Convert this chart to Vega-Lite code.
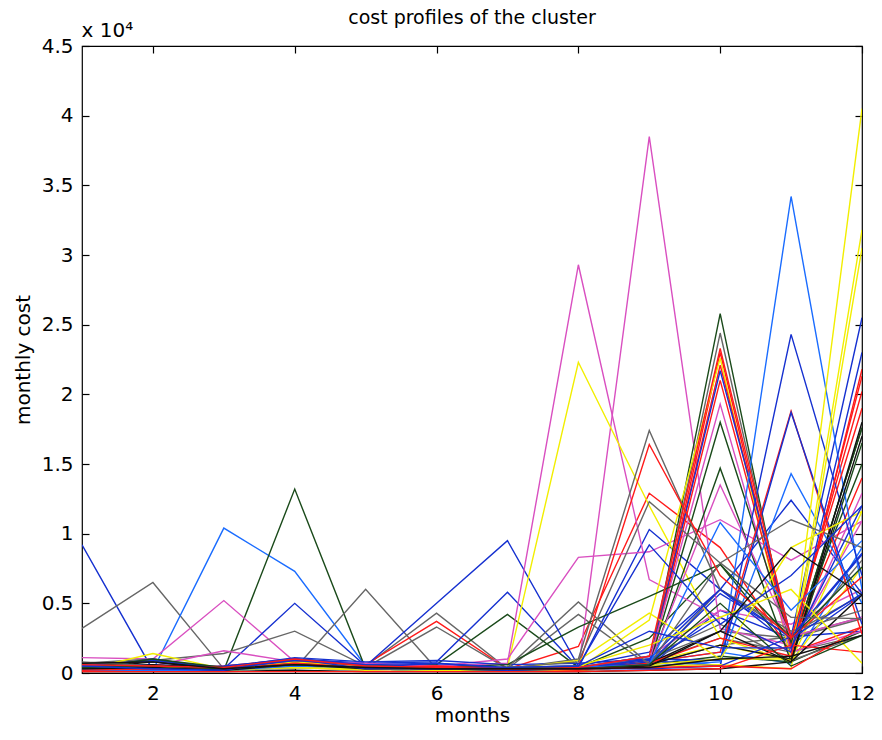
{
  "$schema": "https://vega.github.io/schema/vega-lite/v6.json",
  "width": 780,
  "height": 627,
  "autosize": {"type": "none"},
  "padding": {"left": 82, "top": 46, "right": 20, "bottom": 67},
  "background": "white",
  "config": {
    "font": "DejaVu Sans",
    "view": {"stroke": "black", "strokeWidth": 1.2},
    "axis": {"domain": false, "grid": false, "tickColor": "black", "labelColor": "black", "titleColor": "black", "labelFontSize": 20, "titleFontSize": 20, "titleFontWeight": "normal", "labelFont": "DejaVu Sans", "titleFont": "DejaVu Sans", "tickSize": -7, "tickWidth": 1.2, "labelFlush": false}
  },
  "title": {"text": "cost profiles of the cluster", "fontSize": 19, "fontWeight": "normal", "font": "DejaVu Sans", "color": "black", "offset": -8, "anchor": "middle"},
  "data": {"values": [
{"s":1,"c":"B","m":1,"v":9200},{"s":1,"c":"B","m":2,"v":200},{"s":1,"c":"B","m":3,"v":300},{"s":1,"c":"B","m":4,"v":900},{"s":1,"c":"B","m":5,"v":500},{"s":1,"c":"B","m":6,"v":300},{"s":1,"c":"B","m":7,"v":200},{"s":1,"c":"B","m":8,"v":200},{"s":1,"c":"B","m":9,"v":500},{"s":1,"c":"B","m":10,"v":4500},{"s":1,"c":"B","m":11,"v":2500},{"s":1,"c":"B","m":12,"v":8500},
{"s":2,"c":"A","m":1,"v":3200},{"s":2,"c":"A","m":2,"v":6500},{"s":2,"c":"A","m":3,"v":300},{"s":2,"c":"A","m":4,"v":800},{"s":2,"c":"A","m":5,"v":500},{"s":2,"c":"A","m":6,"v":300},{"s":2,"c":"A","m":7,"v":300},{"s":2,"c":"A","m":8,"v":200},{"s":2,"c":"A","m":9,"v":600},{"s":2,"c":"A","m":10,"v":2000},{"s":2,"c":"A","m":11,"v":2600},{"s":2,"c":"A","m":12,"v":4000},
{"s":3,"c":"L","m":1,"v":500},{"s":3,"c":"L","m":2,"v":200},{"s":3,"c":"L","m":3,"v":10400},{"s":3,"c":"L","m":4,"v":7300},{"s":3,"c":"L","m":5,"v":500},{"s":3,"c":"L","m":6,"v":600},{"s":3,"c":"L","m":7,"v":300},{"s":3,"c":"L","m":8,"v":200},{"s":3,"c":"L","m":9,"v":800},{"s":3,"c":"L","m":10,"v":1500},{"s":3,"c":"L","m":11,"v":700},{"s":3,"c":"L","m":12,"v":9000},
{"s":4,"c":"G","m":1,"v":300},{"s":4,"c":"G","m":2,"v":900},{"s":4,"c":"G","m":3,"v":200},{"s":4,"c":"G","m":4,"v":13200},{"s":4,"c":"G","m":5,"v":300},{"s":4,"c":"G","m":6,"v":200},{"s":4,"c":"G","m":7,"v":300},{"s":4,"c":"G","m":8,"v":400},{"s":4,"c":"G","m":9,"v":600},{"s":4,"c":"G","m":10,"v":1200},{"s":4,"c":"G","m":11,"v":800},{"s":4,"c":"G","m":12,"v":3000},
{"s":5,"c":"M","m":1,"v":1100},{"s":5,"c":"M","m":2,"v":1000},{"s":5,"c":"M","m":3,"v":5200},{"s":5,"c":"M","m":4,"v":800},{"s":5,"c":"M","m":5,"v":400},{"s":5,"c":"M","m":6,"v":300},{"s":5,"c":"M","m":7,"v":200},{"s":5,"c":"M","m":8,"v":300},{"s":5,"c":"M","m":9,"v":1200},{"s":5,"c":"M","m":10,"v":4500},{"s":5,"c":"M","m":11,"v":3500},{"s":5,"c":"M","m":12,"v":6000},
{"s":6,"c":"B","m":1,"v":400},{"s":6,"c":"B","m":2,"v":300},{"s":6,"c":"B","m":3,"v":300},{"s":6,"c":"B","m":4,"v":5000},{"s":6,"c":"B","m":5,"v":500},{"s":6,"c":"B","m":6,"v":300},{"s":6,"c":"B","m":7,"v":400},{"s":6,"c":"B","m":8,"v":500},{"s":6,"c":"B","m":9,"v":1500},{"s":6,"c":"B","m":10,"v":6000},{"s":6,"c":"B","m":11,"v":2000},{"s":6,"c":"B","m":12,"v":5600},
{"s":7,"c":"A","m":1,"v":600},{"s":7,"c":"A","m":2,"v":900},{"s":7,"c":"A","m":3,"v":1400},{"s":7,"c":"A","m":4,"v":3000},{"s":7,"c":"A","m":5,"v":500},{"s":7,"c":"A","m":6,"v":300},{"s":7,"c":"A","m":7,"v":300},{"s":7,"c":"A","m":8,"v":400},{"s":7,"c":"A","m":9,"v":1000},{"s":7,"c":"A","m":10,"v":3000},{"s":7,"c":"A","m":11,"v":2500},{"s":7,"c":"A","m":12,"v":3900},
{"s":8,"c":"A","m":1,"v":700},{"s":8,"c":"A","m":2,"v":1000},{"s":8,"c":"A","m":3,"v":300},{"s":8,"c":"A","m":4,"v":300},{"s":8,"c":"A","m":5,"v":6000},{"s":8,"c":"A","m":6,"v":300},{"s":8,"c":"A","m":7,"v":200},{"s":8,"c":"A","m":8,"v":300},{"s":8,"c":"A","m":9,"v":800},{"s":8,"c":"A","m":10,"v":2500},{"s":8,"c":"A","m":11,"v":1500},{"s":8,"c":"A","m":12,"v":2700},
{"s":9,"c":"A","m":1,"v":400},{"s":9,"c":"A","m":2,"v":300},{"s":9,"c":"A","m":3,"v":400},{"s":9,"c":"A","m":4,"v":900},{"s":9,"c":"A","m":5,"v":500},{"s":9,"c":"A","m":6,"v":4300},{"s":9,"c":"A","m":7,"v":300},{"s":9,"c":"A","m":8,"v":400},{"s":9,"c":"A","m":9,"v":1200},{"s":9,"c":"A","m":10,"v":3500},{"s":9,"c":"A","m":11,"v":900},{"s":9,"c":"A","m":12,"v":2700},
{"s":10,"c":"R","m":1,"v":300},{"s":10,"c":"R","m":2,"v":400},{"s":10,"c":"R","m":3,"v":500},{"s":10,"c":"R","m":4,"v":1000},{"s":10,"c":"R","m":5,"v":600},{"s":10,"c":"R","m":6,"v":3700},{"s":10,"c":"R","m":7,"v":300},{"s":10,"c":"R","m":8,"v":1900},{"s":10,"c":"R","m":9,"v":12900},{"s":10,"c":"R","m":10,"v":9000},{"s":10,"c":"R","m":11,"v":1500},{"s":10,"c":"R","m":12,"v":3300},
{"s":11,"c":"A","m":1,"v":300},{"s":11,"c":"A","m":2,"v":500},{"s":11,"c":"A","m":3,"v":300},{"s":11,"c":"A","m":4,"v":600},{"s":11,"c":"A","m":5,"v":400},{"s":11,"c":"A","m":6,"v":3300},{"s":11,"c":"A","m":7,"v":300},{"s":11,"c":"A","m":8,"v":4200},{"s":11,"c":"A","m":9,"v":500},{"s":11,"c":"A","m":10,"v":6000},{"s":11,"c":"A","m":11,"v":2800},{"s":11,"c":"A","m":12,"v":5600},
{"s":12,"c":"B","m":1,"v":500},{"s":12,"c":"B","m":2,"v":600},{"s":12,"c":"B","m":3,"v":400},{"s":12,"c":"B","m":4,"v":800},{"s":12,"c":"B","m":5,"v":500},{"s":12,"c":"B","m":6,"v":5000},{"s":12,"c":"B","m":7,"v":9500},{"s":12,"c":"B","m":8,"v":500},{"s":12,"c":"B","m":9,"v":700},{"s":12,"c":"B","m":10,"v":5700},{"s":12,"c":"B","m":11,"v":2600},{"s":12,"c":"B","m":12,"v":3000},
{"s":13,"c":"B","m":1,"v":300},{"s":13,"c":"B","m":2,"v":400},{"s":13,"c":"B","m":3,"v":300},{"s":13,"c":"B","m":4,"v":1000},{"s":13,"c":"B","m":5,"v":700},{"s":13,"c":"B","m":6,"v":800},{"s":13,"c":"B","m":7,"v":5800},{"s":13,"c":"B","m":8,"v":400},{"s":13,"c":"B","m":9,"v":10300},{"s":13,"c":"B","m":10,"v":6000},{"s":13,"c":"B","m":11,"v":12400},{"s":13,"c":"B","m":12,"v":5700},
{"s":14,"c":"G","m":1,"v":200},{"s":14,"c":"G","m":2,"v":300},{"s":14,"c":"G","m":3,"v":300},{"s":14,"c":"G","m":4,"v":900},{"s":14,"c":"G","m":5,"v":500},{"s":14,"c":"G","m":6,"v":600},{"s":14,"c":"G","m":7,"v":4200},{"s":14,"c":"G","m":8,"v":400},{"s":14,"c":"G","m":9,"v":2500},{"s":14,"c":"G","m":10,"v":7800},{"s":14,"c":"G","m":11,"v":1500},{"s":14,"c":"G","m":12,"v":17600},
{"s":15,"c":"M","m":1,"v":300},{"s":15,"c":"M","m":2,"v":200},{"s":15,"c":"M","m":3,"v":400},{"s":15,"c":"M","m":4,"v":700},{"s":15,"c":"M","m":5,"v":600},{"s":15,"c":"M","m":6,"v":500},{"s":15,"c":"M","m":7,"v":700},{"s":15,"c":"M","m":8,"v":29300},{"s":15,"c":"M","m":9,"v":6700},{"s":15,"c":"M","m":10,"v":4000},{"s":15,"c":"M","m":11,"v":1500},{"s":15,"c":"M","m":12,"v":12900},
{"s":16,"c":"M","m":1,"v":400},{"s":16,"c":"M","m":2,"v":300},{"s":16,"c":"M","m":3,"v":300},{"s":16,"c":"M","m":4,"v":500},{"s":16,"c":"M","m":5,"v":500},{"s":16,"c":"M","m":6,"v":400},{"s":16,"c":"M","m":7,"v":300},{"s":16,"c":"M","m":8,"v":200},{"s":16,"c":"M","m":9,"v":38500},{"s":16,"c":"M","m":10,"v":3200},{"s":16,"c":"M","m":11,"v":2000},{"s":16,"c":"M","m":12,"v":10900},
{"s":17,"c":"Y","m":1,"v":200},{"s":17,"c":"Y","m":2,"v":1400},{"s":17,"c":"Y","m":3,"v":300},{"s":17,"c":"Y","m":4,"v":700},{"s":17,"c":"Y","m":5,"v":400},{"s":17,"c":"Y","m":6,"v":300},{"s":17,"c":"Y","m":7,"v":400},{"s":17,"c":"Y","m":8,"v":22300},{"s":17,"c":"Y","m":9,"v":12000},{"s":17,"c":"Y","m":10,"v":2500},{"s":17,"c":"Y","m":11,"v":800},{"s":17,"c":"Y","m":12,"v":7600},
{"s":18,"c":"M","m":1,"v":600},{"s":18,"c":"M","m":2,"v":500},{"s":18,"c":"M","m":3,"v":1600},{"s":18,"c":"M","m":4,"v":800},{"s":18,"c":"M","m":5,"v":700},{"s":18,"c":"M","m":6,"v":500},{"s":18,"c":"M","m":7,"v":1000},{"s":18,"c":"M","m":8,"v":8300},{"s":18,"c":"M","m":9,"v":8700},{"s":18,"c":"M","m":10,"v":11000},{"s":18,"c":"M","m":11,"v":8100},{"s":18,"c":"M","m":12,"v":10900},
{"s":19,"c":"G","m":1,"v":300},{"s":19,"c":"G","m":2,"v":200},{"s":19,"c":"G","m":3,"v":300},{"s":19,"c":"G","m":4,"v":800},{"s":19,"c":"G","m":5,"v":400},{"s":19,"c":"G","m":6,"v":300},{"s":19,"c":"G","m":7,"v":300},{"s":19,"c":"G","m":8,"v":300},{"s":19,"c":"G","m":9,"v":500},{"s":19,"c":"G","m":10,"v":25800},{"s":19,"c":"G","m":11,"v":1500},{"s":19,"c":"G","m":12,"v":17600},
{"s":20,"c":"A","m":1,"v":500},{"s":20,"c":"A","m":2,"v":300},{"s":20,"c":"A","m":3,"v":200},{"s":20,"c":"A","m":4,"v":700},{"s":20,"c":"A","m":5,"v":400},{"s":20,"c":"A","m":6,"v":300},{"s":20,"c":"A","m":7,"v":300},{"s":20,"c":"A","m":8,"v":300},{"s":20,"c":"A","m":9,"v":600},{"s":20,"c":"A","m":10,"v":24400},{"s":20,"c":"A","m":11,"v":2000},{"s":20,"c":"A","m":12,"v":8100},
{"s":21,"c":"R","m":1,"v":200},{"s":21,"c":"R","m":2,"v":300},{"s":21,"c":"R","m":3,"v":200},{"s":21,"c":"R","m":4,"v":600},{"s":21,"c":"R","m":5,"v":500},{"s":21,"c":"R","m":6,"v":400},{"s":21,"c":"R","m":7,"v":300},{"s":21,"c":"R","m":8,"v":300},{"s":21,"c":"R","m":9,"v":500},{"s":21,"c":"R","m":10,"v":23000},{"s":21,"c":"R","m":11,"v":1800},{"s":21,"c":"R","m":12,"v":21300},
{"s":22,"c":"Y","m":1,"v":200},{"s":22,"c":"Y","m":2,"v":300},{"s":22,"c":"Y","m":3,"v":300},{"s":22,"c":"Y","m":4,"v":500},{"s":22,"c":"Y","m":5,"v":300},{"s":22,"c":"Y","m":6,"v":300},{"s":22,"c":"Y","m":7,"v":200},{"s":22,"c":"Y","m":8,"v":300},{"s":22,"c":"Y","m":9,"v":3800},{"s":22,"c":"Y","m":10,"v":22600},{"s":22,"c":"Y","m":11,"v":900},{"s":22,"c":"Y","m":12,"v":11600},
{"s":23,"c":"R","m":1,"v":300},{"s":23,"c":"R","m":2,"v":200},{"s":23,"c":"R","m":3,"v":300},{"s":23,"c":"R","m":4,"v":600},{"s":23,"c":"R","m":5,"v":400},{"s":23,"c":"R","m":6,"v":300},{"s":23,"c":"R","m":7,"v":200},{"s":23,"c":"R","m":8,"v":400},{"s":23,"c":"R","m":9,"v":600},{"s":23,"c":"R","m":10,"v":22100},{"s":23,"c":"R","m":11,"v":2200},{"s":23,"c":"R","m":12,"v":20200},
{"s":24,"c":"B","m":1,"v":200},{"s":24,"c":"B","m":2,"v":300},{"s":24,"c":"B","m":3,"v":200},{"s":24,"c":"B","m":4,"v":700},{"s":24,"c":"B","m":5,"v":300},{"s":24,"c":"B","m":6,"v":200},{"s":24,"c":"B","m":7,"v":300},{"s":24,"c":"B","m":8,"v":300},{"s":24,"c":"B","m":9,"v":700},{"s":24,"c":"B","m":10,"v":21700},{"s":24,"c":"B","m":11,"v":2600},{"s":24,"c":"B","m":12,"v":25500},
{"s":25,"c":"R","m":1,"v":200},{"s":25,"c":"R","m":2,"v":200},{"s":25,"c":"R","m":3,"v":200},{"s":25,"c":"R","m":4,"v":500},{"s":25,"c":"R","m":5,"v":300},{"s":25,"c":"R","m":6,"v":300},{"s":25,"c":"R","m":7,"v":200},{"s":25,"c":"R","m":8,"v":200},{"s":25,"c":"R","m":9,"v":500},{"s":25,"c":"R","m":10,"v":21000},{"s":25,"c":"R","m":11,"v":2000},{"s":25,"c":"R","m":12,"v":14000},
{"s":26,"c":"M","m":1,"v":300},{"s":26,"c":"M","m":2,"v":200},{"s":26,"c":"M","m":3,"v":300},{"s":26,"c":"M","m":4,"v":500},{"s":26,"c":"M","m":5,"v":300},{"s":26,"c":"M","m":6,"v":300},{"s":26,"c":"M","m":7,"v":200},{"s":26,"c":"M","m":8,"v":400},{"s":26,"c":"M","m":9,"v":800},{"s":26,"c":"M","m":10,"v":19300},{"s":26,"c":"M","m":11,"v":1500},{"s":26,"c":"M","m":12,"v":3000},
{"s":27,"c":"G","m":1,"v":200},{"s":27,"c":"G","m":2,"v":200},{"s":27,"c":"G","m":3,"v":200},{"s":27,"c":"G","m":4,"v":600},{"s":27,"c":"G","m":5,"v":300},{"s":27,"c":"G","m":6,"v":200},{"s":27,"c":"G","m":7,"v":300},{"s":27,"c":"G","m":8,"v":300},{"s":27,"c":"G","m":9,"v":500},{"s":27,"c":"G","m":10,"v":18000},{"s":27,"c":"G","m":11,"v":2200},{"s":27,"c":"G","m":12,"v":15000},
{"s":28,"c":"G","m":1,"v":200},{"s":28,"c":"G","m":2,"v":200},{"s":28,"c":"G","m":3,"v":200},{"s":28,"c":"G","m":4,"v":500},{"s":28,"c":"G","m":5,"v":300},{"s":28,"c":"G","m":6,"v":200},{"s":28,"c":"G","m":7,"v":200},{"s":28,"c":"G","m":8,"v":300},{"s":28,"c":"G","m":9,"v":400},{"s":28,"c":"G","m":10,"v":14700},{"s":28,"c":"G","m":11,"v":800},{"s":28,"c":"G","m":12,"v":16500},
{"s":29,"c":"M","m":1,"v":300},{"s":29,"c":"M","m":2,"v":200},{"s":29,"c":"M","m":3,"v":300},{"s":29,"c":"M","m":4,"v":400},{"s":29,"c":"M","m":5,"v":200},{"s":29,"c":"M","m":6,"v":300},{"s":29,"c":"M","m":7,"v":200},{"s":29,"c":"M","m":8,"v":300},{"s":29,"c":"M","m":9,"v":600},{"s":29,"c":"M","m":10,"v":13500},{"s":29,"c":"M","m":11,"v":2600},{"s":29,"c":"M","m":12,"v":4000},
{"s":30,"c":"L","m":1,"v":200},{"s":30,"c":"L","m":2,"v":200},{"s":30,"c":"L","m":3,"v":200},{"s":30,"c":"L","m":4,"v":400},{"s":30,"c":"L","m":5,"v":300},{"s":30,"c":"L","m":6,"v":200},{"s":30,"c":"L","m":7,"v":300},{"s":30,"c":"L","m":8,"v":400},{"s":30,"c":"L","m":9,"v":1200},{"s":30,"c":"L","m":10,"v":500},{"s":30,"c":"L","m":11,"v":34200},{"s":30,"c":"L","m":12,"v":6000},
{"s":31,"c":"B","m":1,"v":200},{"s":31,"c":"B","m":2,"v":300},{"s":31,"c":"B","m":3,"v":200},{"s":31,"c":"B","m":4,"v":600},{"s":31,"c":"B","m":5,"v":300},{"s":31,"c":"B","m":6,"v":200},{"s":31,"c":"B","m":7,"v":200},{"s":31,"c":"B","m":8,"v":300},{"s":31,"c":"B","m":9,"v":900},{"s":31,"c":"B","m":10,"v":500},{"s":31,"c":"B","m":11,"v":24300},{"s":31,"c":"B","m":12,"v":7000},
{"s":32,"c":"R","m":1,"v":200},{"s":32,"c":"R","m":2,"v":200},{"s":32,"c":"R","m":3,"v":200},{"s":32,"c":"R","m":4,"v":500},{"s":32,"c":"R","m":5,"v":300},{"s":32,"c":"R","m":6,"v":300},{"s":32,"c":"R","m":7,"v":200},{"s":32,"c":"R","m":8,"v":300},{"s":32,"c":"R","m":9,"v":800},{"s":32,"c":"R","m":10,"v":1500},{"s":32,"c":"R","m":11,"v":18800},{"s":32,"c":"R","m":12,"v":2800},
{"s":33,"c":"B","m":1,"v":300},{"s":33,"c":"B","m":2,"v":200},{"s":33,"c":"B","m":3,"v":300},{"s":33,"c":"B","m":4,"v":600},{"s":33,"c":"B","m":5,"v":300},{"s":33,"c":"B","m":6,"v":200},{"s":33,"c":"B","m":7,"v":300},{"s":33,"c":"B","m":8,"v":300},{"s":33,"c":"B","m":9,"v":1000},{"s":33,"c":"B","m":10,"v":900},{"s":33,"c":"B","m":11,"v":18700},{"s":33,"c":"B","m":12,"v":3500},
{"s":34,"c":"L","m":1,"v":200},{"s":34,"c":"L","m":2,"v":300},{"s":34,"c":"L","m":3,"v":200},{"s":34,"c":"L","m":4,"v":500},{"s":34,"c":"L","m":5,"v":300},{"s":34,"c":"L","m":6,"v":200},{"s":34,"c":"L","m":7,"v":200},{"s":34,"c":"L","m":8,"v":300},{"s":34,"c":"L","m":9,"v":500},{"s":34,"c":"L","m":10,"v":800},{"s":34,"c":"L","m":11,"v":14300},{"s":34,"c":"L","m":12,"v":5000},
{"s":35,"c":"Y","m":1,"v":200},{"s":35,"c":"Y","m":2,"v":300},{"s":35,"c":"Y","m":3,"v":200},{"s":35,"c":"Y","m":4,"v":400},{"s":35,"c":"Y","m":5,"v":200},{"s":35,"c":"Y","m":6,"v":300},{"s":35,"c":"Y","m":7,"v":200},{"s":35,"c":"Y","m":8,"v":300},{"s":35,"c":"Y","m":9,"v":600},{"s":35,"c":"Y","m":10,"v":1000},{"s":35,"c":"Y","m":11,"v":1000},{"s":35,"c":"Y","m":12,"v":40500},
{"s":36,"c":"Y","m":1,"v":300},{"s":36,"c":"Y","m":2,"v":200},{"s":36,"c":"Y","m":3,"v":200},{"s":36,"c":"Y","m":4,"v":500},{"s":36,"c":"Y","m":5,"v":300},{"s":36,"c":"Y","m":6,"v":200},{"s":36,"c":"Y","m":7,"v":200},{"s":36,"c":"Y","m":8,"v":200},{"s":36,"c":"Y","m":9,"v":800},{"s":36,"c":"Y","m":10,"v":2000},{"s":36,"c":"Y","m":11,"v":900},{"s":36,"c":"Y","m":12,"v":31800},
{"s":37,"c":"Y","m":1,"v":200},{"s":37,"c":"Y","m":2,"v":200},{"s":37,"c":"Y","m":3,"v":300},{"s":37,"c":"Y","m":4,"v":400},{"s":37,"c":"Y","m":5,"v":300},{"s":37,"c":"Y","m":6,"v":200},{"s":37,"c":"Y","m":7,"v":300},{"s":37,"c":"Y","m":8,"v":200},{"s":37,"c":"Y","m":9,"v":500},{"s":37,"c":"Y","m":10,"v":600},{"s":37,"c":"Y","m":11,"v":300},{"s":37,"c":"Y","m":12,"v":30500},
{"s":38,"c":"K","m":1,"v":300},{"s":38,"c":"K","m":2,"v":800},{"s":38,"c":"K","m":3,"v":200},{"s":38,"c":"K","m":4,"v":800},{"s":38,"c":"K","m":5,"v":300},{"s":38,"c":"K","m":6,"v":400},{"s":38,"c":"K","m":7,"v":300},{"s":38,"c":"K","m":8,"v":300},{"s":38,"c":"K","m":9,"v":600},{"s":38,"c":"K","m":10,"v":2000},{"s":38,"c":"K","m":11,"v":1000},{"s":38,"c":"K","m":12,"v":17000},
{"s":39,"c":"K","m":1,"v":400},{"s":39,"c":"K","m":2,"v":600},{"s":39,"c":"K","m":3,"v":300},{"s":39,"c":"K","m":4,"v":900},{"s":39,"c":"K","m":5,"v":400},{"s":39,"c":"K","m":6,"v":300},{"s":39,"c":"K","m":7,"v":200},{"s":39,"c":"K","m":8,"v":300},{"s":39,"c":"K","m":9,"v":700},{"s":39,"c":"K","m":10,"v":3000},{"s":39,"c":"K","m":11,"v":800},{"s":39,"c":"K","m":12,"v":18000},
{"s":40,"c":"B","m":1,"v":300},{"s":40,"c":"B","m":2,"v":1000},{"s":40,"c":"B","m":3,"v":200},{"s":40,"c":"B","m":4,"v":1000},{"s":40,"c":"B","m":5,"v":400},{"s":40,"c":"B","m":6,"v":700},{"s":40,"c":"B","m":7,"v":300},{"s":40,"c":"B","m":8,"v":300},{"s":40,"c":"B","m":9,"v":800},{"s":40,"c":"B","m":10,"v":4000},{"s":40,"c":"B","m":11,"v":1500},{"s":40,"c":"B","m":12,"v":23000},
{"s":41,"c":"R","m":1,"v":300},{"s":41,"c":"R","m":2,"v":400},{"s":41,"c":"R","m":3,"v":300},{"s":41,"c":"R","m":4,"v":700},{"s":41,"c":"R","m":5,"v":400},{"s":41,"c":"R","m":6,"v":300},{"s":41,"c":"R","m":7,"v":300},{"s":41,"c":"R","m":8,"v":200},{"s":41,"c":"R","m":9,"v":700},{"s":41,"c":"R","m":10,"v":2500},{"s":41,"c":"R","m":11,"v":1200},{"s":41,"c":"R","m":12,"v":21800},
{"s":42,"c":"A","m":1,"v":300},{"s":42,"c":"A","m":2,"v":500},{"s":42,"c":"A","m":3,"v":300},{"s":42,"c":"A","m":4,"v":600},{"s":42,"c":"A","m":5,"v":400},{"s":42,"c":"A","m":6,"v":300},{"s":42,"c":"A","m":7,"v":300},{"s":42,"c":"A","m":8,"v":1000},{"s":42,"c":"A","m":9,"v":17400},{"s":42,"c":"A","m":10,"v":6000},{"s":42,"c":"A","m":11,"v":3000},{"s":42,"c":"A","m":12,"v":4500},
{"s":43,"c":"K","m":1,"v":100},{"s":43,"c":"K","m":2,"v":100},{"s":43,"c":"K","m":3,"v":100},{"s":43,"c":"K","m":4,"v":200},{"s":43,"c":"K","m":5,"v":100},{"s":43,"c":"K","m":6,"v":100},{"s":43,"c":"K","m":7,"v":100},{"s":43,"c":"K","m":8,"v":100},{"s":43,"c":"K","m":9,"v":200},{"s":43,"c":"K","m":10,"v":300},{"s":43,"c":"K","m":11,"v":800},{"s":43,"c":"K","m":12,"v":5600},
{"s":44,"c":"R","m":1,"v":100},{"s":44,"c":"R","m":2,"v":100},{"s":44,"c":"R","m":3,"v":100},{"s":44,"c":"R","m":4,"v":100},{"s":44,"c":"R","m":5,"v":100},{"s":44,"c":"R","m":6,"v":100},{"s":44,"c":"R","m":7,"v":100},{"s":44,"c":"R","m":8,"v":100},{"s":44,"c":"R","m":9,"v":200},{"s":44,"c":"R","m":10,"v":300},{"s":44,"c":"R","m":11,"v":2000},{"s":44,"c":"R","m":12,"v":1500},
{"s":45,"c":"B","m":1,"v":600},{"s":45,"c":"B","m":2,"v":200},{"s":45,"c":"B","m":3,"v":500},{"s":45,"c":"B","m":4,"v":1000},{"s":45,"c":"B","m":5,"v":600},{"s":45,"c":"B","m":6,"v":300},{"s":45,"c":"B","m":7,"v":200},{"s":45,"c":"B","m":8,"v":300},{"s":45,"c":"B","m":9,"v":300},{"s":45,"c":"B","m":10,"v":500},{"s":45,"c":"B","m":11,"v":2600},{"s":45,"c":"B","m":12,"v":8600},
{"s":46,"c":"B","m":1,"v":500},{"s":46,"c":"B","m":2,"v":900},{"s":46,"c":"B","m":3,"v":400},{"s":46,"c":"B","m":4,"v":1100},{"s":46,"c":"B","m":5,"v":800},{"s":46,"c":"B","m":6,"v":900},{"s":46,"c":"B","m":7,"v":600},{"s":46,"c":"B","m":8,"v":700},{"s":46,"c":"B","m":9,"v":1000},{"s":46,"c":"B","m":10,"v":6000},{"s":46,"c":"B","m":11,"v":2500},{"s":46,"c":"B","m":12,"v":5700},
{"s":47,"c":"G","m":1,"v":300},{"s":47,"c":"G","m":2,"v":1000},{"s":47,"c":"G","m":3,"v":400},{"s":47,"c":"G","m":4,"v":800},{"s":47,"c":"G","m":5,"v":500},{"s":47,"c":"G","m":6,"v":400},{"s":47,"c":"G","m":7,"v":600},{"s":47,"c":"G","m":8,"v":3300},{"s":47,"c":"G","m":9,"v":5500},{"s":47,"c":"G","m":10,"v":7800},{"s":47,"c":"G","m":11,"v":2500},{"s":47,"c":"G","m":12,"v":7600},
{"s":48,"c":"A","m":1,"v":800},{"s":48,"c":"A","m":2,"v":500},{"s":48,"c":"A","m":3,"v":300},{"s":48,"c":"A","m":4,"v":600},{"s":48,"c":"A","m":5,"v":400},{"s":48,"c":"A","m":6,"v":300},{"s":48,"c":"A","m":7,"v":400},{"s":48,"c":"A","m":8,"v":5100},{"s":48,"c":"A","m":9,"v":600},{"s":48,"c":"A","m":10,"v":7900},{"s":48,"c":"A","m":11,"v":11000},{"s":48,"c":"A","m":12,"v":9000},
{"s":49,"c":"R","m":1,"v":400},{"s":49,"c":"R","m":2,"v":300},{"s":49,"c":"R","m":3,"v":200},{"s":49,"c":"R","m":4,"v":900},{"s":49,"c":"R","m":5,"v":400},{"s":49,"c":"R","m":6,"v":300},{"s":49,"c":"R","m":7,"v":300},{"s":49,"c":"R","m":8,"v":400},{"s":49,"c":"R","m":9,"v":16400},{"s":49,"c":"R","m":10,"v":7000},{"s":49,"c":"R","m":11,"v":2500},{"s":49,"c":"R","m":12,"v":6900},
{"s":50,"c":"Y","m":1,"v":300},{"s":50,"c":"Y","m":2,"v":500},{"s":50,"c":"Y","m":3,"v":200},{"s":50,"c":"Y","m":4,"v":600},{"s":50,"c":"Y","m":5,"v":300},{"s":50,"c":"Y","m":6,"v":400},{"s":50,"c":"Y","m":7,"v":300},{"s":50,"c":"Y","m":8,"v":900},{"s":50,"c":"Y","m":9,"v":4300},{"s":50,"c":"Y","m":10,"v":1000},{"s":50,"c":"Y","m":11,"v":9000},{"s":50,"c":"Y","m":12,"v":11600},
{"s":51,"c":"A","m":1,"v":500},{"s":51,"c":"A","m":2,"v":400},{"s":51,"c":"A","m":3,"v":300},{"s":51,"c":"A","m":4,"v":700},{"s":51,"c":"A","m":5,"v":500},{"s":51,"c":"A","m":6,"v":300},{"s":51,"c":"A","m":7,"v":400},{"s":51,"c":"A","m":8,"v":800},{"s":51,"c":"A","m":9,"v":12300},{"s":51,"c":"A","m":10,"v":7900},{"s":51,"c":"A","m":11,"v":4000},{"s":51,"c":"A","m":12,"v":3900},
{"s":52,"c":"Y","m":1,"v":300},{"s":52,"c":"Y","m":2,"v":400},{"s":52,"c":"Y","m":3,"v":300},{"s":52,"c":"Y","m":4,"v":800},{"s":52,"c":"Y","m":5,"v":400},{"s":52,"c":"Y","m":6,"v":300},{"s":52,"c":"Y","m":7,"v":400},{"s":52,"c":"Y","m":8,"v":500},{"s":52,"c":"Y","m":9,"v":2000},{"s":52,"c":"Y","m":10,"v":4000},{"s":52,"c":"Y","m":11,"v":6000},{"s":52,"c":"Y","m":12,"v":700},
{"s":53,"c":"B","m":1,"v":300},{"s":53,"c":"B","m":2,"v":300},{"s":53,"c":"B","m":3,"v":300},{"s":53,"c":"B","m":4,"v":900},{"s":53,"c":"B","m":5,"v":600},{"s":53,"c":"B","m":6,"v":700},{"s":53,"c":"B","m":7,"v":400},{"s":53,"c":"B","m":8,"v":500},{"s":53,"c":"B","m":9,"v":9200},{"s":53,"c":"B","m":10,"v":3500},{"s":53,"c":"B","m":11,"v":7000},{"s":53,"c":"B","m":12,"v":12000},
{"s":54,"c":"L","m":1,"v":200},{"s":54,"c":"L","m":2,"v":200},{"s":54,"c":"L","m":3,"v":200},{"s":54,"c":"L","m":4,"v":500},{"s":54,"c":"L","m":5,"v":400},{"s":54,"c":"L","m":6,"v":300},{"s":54,"c":"L","m":7,"v":300},{"s":54,"c":"L","m":8,"v":400},{"s":54,"c":"L","m":9,"v":600},{"s":54,"c":"L","m":10,"v":10800},{"s":54,"c":"L","m":11,"v":4500},{"s":54,"c":"L","m":12,"v":9500},
{"s":55,"c":"R","m":1,"v":200},{"s":55,"c":"R","m":2,"v":300},{"s":55,"c":"R","m":3,"v":300},{"s":55,"c":"R","m":4,"v":700},{"s":55,"c":"R","m":5,"v":400},{"s":55,"c":"R","m":6,"v":500},{"s":55,"c":"R","m":7,"v":300},{"s":55,"c":"R","m":8,"v":400},{"s":55,"c":"R","m":9,"v":1200},{"s":55,"c":"R","m":10,"v":23300},{"s":55,"c":"R","m":11,"v":2500},{"s":55,"c":"R","m":12,"v":19000},
{"s":56,"c":"K","m":1,"v":300},{"s":56,"c":"K","m":2,"v":400},{"s":56,"c":"K","m":3,"v":200},{"s":56,"c":"K","m":4,"v":600},{"s":56,"c":"K","m":5,"v":300},{"s":56,"c":"K","m":6,"v":300},{"s":56,"c":"K","m":7,"v":300},{"s":56,"c":"K","m":8,"v":300},{"s":56,"c":"K","m":9,"v":500},{"s":56,"c":"K","m":10,"v":3000},{"s":56,"c":"K","m":11,"v":9000},{"s":56,"c":"K","m":12,"v":5600},
{"s":57,"c":"G","m":1,"v":400},{"s":57,"c":"G","m":2,"v":500},{"s":57,"c":"G","m":3,"v":300},{"s":57,"c":"G","m":4,"v":600},{"s":57,"c":"G","m":5,"v":400},{"s":57,"c":"G","m":6,"v":300},{"s":57,"c":"G","m":7,"v":400},{"s":57,"c":"G","m":8,"v":300},{"s":57,"c":"G","m":9,"v":600},{"s":57,"c":"G","m":10,"v":5000},{"s":57,"c":"G","m":11,"v":500},{"s":57,"c":"G","m":12,"v":2700},
{"s":58,"c":"B","m":1,"v":500},{"s":58,"c":"B","m":2,"v":300},{"s":58,"c":"B","m":3,"v":200},{"s":58,"c":"B","m":4,"v":1000},{"s":58,"c":"B","m":5,"v":300},{"s":58,"c":"B","m":6,"v":300},{"s":58,"c":"B","m":7,"v":400},{"s":58,"c":"B","m":8,"v":500},{"s":58,"c":"B","m":9,"v":3000},{"s":58,"c":"B","m":10,"v":1800},{"s":58,"c":"B","m":11,"v":1800},{"s":58,"c":"B","m":12,"v":12000},
{"s":59,"c":"R","m":1,"v":600},{"s":59,"c":"R","m":2,"v":500},{"s":59,"c":"R","m":3,"v":400},{"s":59,"c":"R","m":4,"v":1000},{"s":59,"c":"R","m":5,"v":500},{"s":59,"c":"R","m":6,"v":400},{"s":59,"c":"R","m":7,"v":300},{"s":59,"c":"R","m":8,"v":300},{"s":59,"c":"R","m":9,"v":400},{"s":59,"c":"R","m":10,"v":500},{"s":59,"c":"R","m":11,"v":300},{"s":59,"c":"R","m":12,"v":3300},
{"s":60,"c":"K","m":1,"v":700},{"s":60,"c":"K","m":2,"v":800},{"s":60,"c":"K","m":3,"v":300},{"s":60,"c":"K","m":4,"v":600},{"s":60,"c":"K","m":5,"v":400},{"s":60,"c":"K","m":6,"v":300},{"s":60,"c":"K","m":7,"v":300},{"s":60,"c":"K","m":8,"v":300},{"s":60,"c":"K","m":9,"v":400},{"s":60,"c":"K","m":10,"v":1000},{"s":60,"c":"K","m":11,"v":1200},{"s":60,"c":"K","m":12,"v":2700}
  ]},
  "layer": [
    {
      "mark": {"type": "line", "strokeWidth": 1.4, "clip": true},
      "encoding": {
        "x": {"field": "m", "type": "quantitative", "scale": {"domain": [1, 12], "nice": false, "zero": false},
              "axis": {"orient": "bottom", "title": "months", "values": [2,4,6,8,10,12], "labelPadding": 17, "titlePadding": 2}},
        "y": {"field": "v", "type": "quantitative", "scale": {"domain": [0, 45000], "nice": false},
              "axis": {"orient": "left", "title": "monthly cost", "values": [0,5000,10000,15000,20000,25000,30000,35000,40000,45000], "labelExpr": "datum.value / 10000", "labelPadding": 16, "titlePadding": 8}},
        "detail": {"field": "s", "type": "nominal"},
        "color": {"field": "c", "type": "nominal", "legend": null,
                  "scale": {"domain": ["B","L","G","A","K","R","Y","M"], "range": ["#1530d0","#1a6cff","#1a4a1a","#666666","#111111","#ff1a1a","#f2ee00","#d94fc0"]}}
      }
    },
    {
      "mark": {"type": "line", "opacity": 0},
      "encoding": {
        "x": {"field": "m", "type": "quantitative",
              "axis": {"orient": "top", "title": null, "labels": false, "values": [2,4,6,8,10,12]}},
        "y": {"field": "v", "type": "quantitative",
              "axis": {"orient": "right", "labels": false, "values": [0,5000,10000,15000,20000,25000,30000,35000,40000,45000],
                       "title": "x 10⁴", "titleAngle": 0, "titleX": -781, "titleY": -10, "titleAlign": "left", "titleBaseline": "alphabetic"}},
        "detail": {"field": "s", "type": "nominal"}
      }
    }
  ],
  "resolve": {"axis": {"x": "independent", "y": "independent"}}
}
